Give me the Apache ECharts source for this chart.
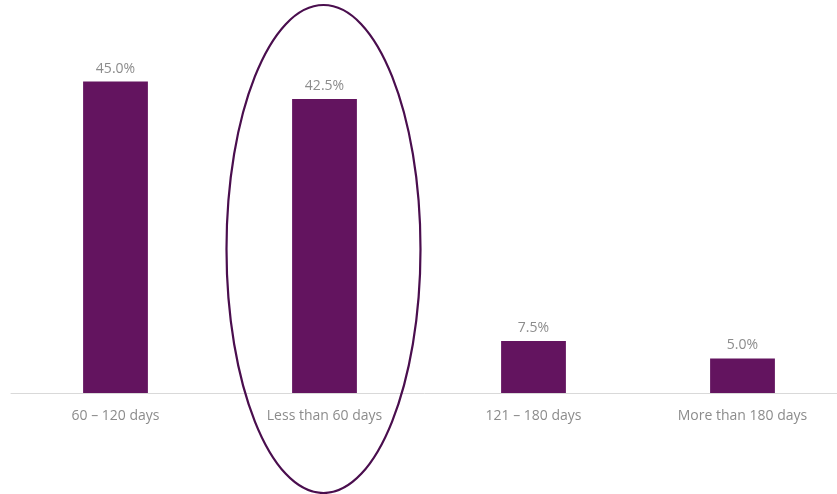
<!DOCTYPE html>
<html>
<head>
<meta charset="utf-8">
<script src="https://cdn.jsdelivr.net/npm/echarts@6/dist/echarts.min.js"></script>
<style>
  html, body { margin: 0; padding: 0; background: #ffffff; }
  #chart { width: 837px; height: 494px; }
</style>
</head>
<body>
<div id="chart"></div>
<script>
// Share of responses by time range
const categories = ['60 – 120 days', 'Less than 60 days', '121 – 180 days', 'More than 180 days'];
const shares = [45.0, 42.5, 7.5, 5.0];
// Category that gets the highlight ring
const highlighted = 'Less than 60 days';

const barColor = '#63145F';
const textGray = '#8C8C8C';
const fontFamily = '"Open Sans", "Liberation Sans", sans-serif';

const chart = echarts.init(document.getElementById('chart'));

chart.setOption({
  animation: false,
  grid: { left: 11, width: 836, top: 47, bottom: 101, containLabel: false, outerBoundsMode: 'none' },
  xAxis: {
    type: 'category',
    data: categories,
    axisLine: { lineStyle: { color: '#D9D9D9', width: 1 } },
    axisTick: { show: false },
    axisLabel: { color: textGray, fontSize: 14, fontFamily: fontFamily, margin: 16 }
  },
  yAxis: {
    type: 'value',
    min: 0,
    max: 50,
    show: false,
    splitLine: { show: false }
  },
  series: [{
    type: 'bar',
    data: shares,
    barWidth: '31%',
    itemStyle: { color: barColor },
    label: {
      show: true,
      position: 'top',
      distance: 6,
      color: textGray,
      fontSize: 14,
      fontFamily: fontFamily,
      formatter: p => p.value.toFixed(1) + '%'
    }
  }]
});

// Ring around the highlighted category, centred on its axis position
const idx = categories.indexOf(highlighted);
const cx = chart.convertToPixel({ xAxisIndex: 0 }, idx);
chart.setOption({
  graphic: [{
    type: 'ellipse',
    shape: { cx: cx - 1, cy: 249, rx: 97, ry: 244 },
    style: { fill: 'none', stroke: '#4A0E4E', lineWidth: 2.2 },
    z: 10
  }]
});
</script>
</body>
</html>
